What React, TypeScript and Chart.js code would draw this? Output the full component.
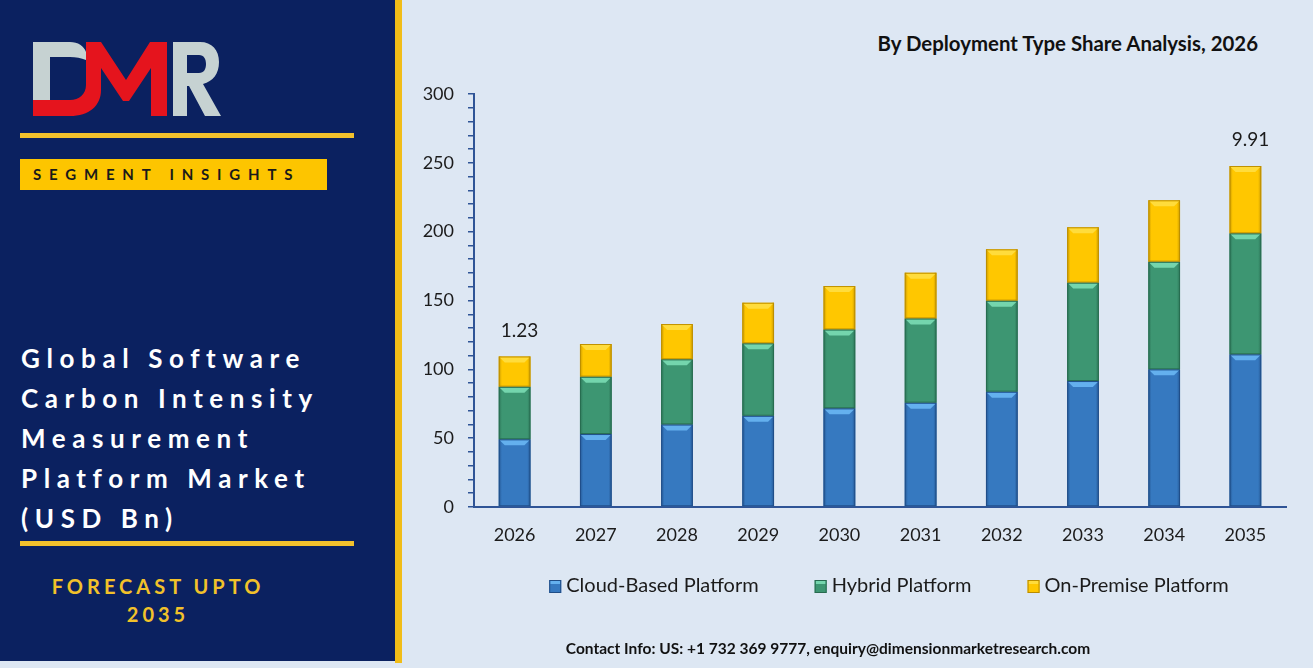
import React, { useEffect, useRef } from "react";
import { Chart, registerables } from "chart.js";

Chart.register(...registerables);

// Forecast years on the category axis
const years = ["2026", "2027", "2028", "2029", "2030", "2031", "2032", "2033", "2034", "2035"];

// Stacked segment values per year
const cloudBased = [49.2, 53.0, 60.0, 66.3, 71.7, 75.8, 83.8, 91.5, 100.0, 110.9];
const hybrid = [38.2, 41.7, 47.3, 52.6, 57.3, 61.2, 66.1, 71.5, 78.2, 87.9];
const onPremise = [22.0, 23.7, 25.6, 29.5, 31.5, 33.2, 37.3, 40.2, 44.6, 48.9];

// Market size (USD Bn) annotations shown above the first and last stacks
const marketSizeLabels = ["1.23", "", "", "", "", "", "", "", "", "9.91"];

// Value axis
const yMin = 0;
const yMax = 300;
const yMinorStep = 10;
const yLabelEvery = 50;

const seriesNames = ["Cloud-Based Platform", "Hybrid Platform", "On-Premise Platform"];
const seriesFill = ["#3679c0", "#3d9672", "#ffc700"];
const seriesLight = ["#64b0ee", "#74d5ad", "#ffdc3c"];
const seriesDark = ["#1f4d86", "#276a4f", "#b98c00"];

const AXIS_COLOR = "#2f5496";
const TEXT_COLOR = "#1b1b1b";
const FONT = "Lato, 'Open Sans', sans-serif";

function hexA(hex: string, a: number) {
  const n = parseInt(hex.slice(1), 16);
  return `rgba(${(n >> 16) & 255},${(n >> 8) & 255},${n & 255},${a})`;
}

// Bevelled look for every stacked segment
const bevelPlugin = {
  id: "bevel",
  afterDatasetsDraw(chart: any) {
    const ctx = chart.ctx;
    chart.data.datasets.forEach((_ds: any, di: number) => {
      const meta = chart.getDatasetMeta(di);
      meta.data.forEach((bar: any) => {
        const { x, y, base, width } = bar.getProps(["x", "y", "base", "width"], true);
        const l = x - width / 2;
        const r = x + width / 2;
        const t = Math.min(y, base);
        const b = Math.max(y, base);
        const h = b - t;
        if (h <= 0) return;
        const dark = seriesDark[di];
        ctx.save();
        const g = ctx.createLinearGradient(l, 0, r, 0);
        g.addColorStop(0, hexA(dark, 0.75));
        g.addColorStop(0.1, hexA(dark, 0.0));
        g.addColorStop(0.9, hexA(dark, 0.0));
        g.addColorStop(1, hexA(dark, 0.75));
        ctx.fillStyle = g;
        ctx.fillRect(l, t, width, h);
        const bv = Math.min(5, h / 3);
        ctx.fillStyle = seriesLight[di];
        ctx.beginPath();
        ctx.moveTo(l + 1, t + 1);
        ctx.lineTo(r - 1, t + 1);
        ctx.lineTo(r - 1 - bv, t + 1 + bv);
        ctx.lineTo(l + 1 + bv, t + 1 + bv);
        ctx.closePath();
        ctx.fill();
        ctx.strokeStyle = hexA(dark, 0.9);
        ctx.lineWidth = 1;
        ctx.strokeRect(l + 0.5, t + 0.5, width - 1, h - 1);
        ctx.restore();
      });
    });
  },
};

// Market size text above the top segment of a stack
const totalsPlugin = {
  id: "totals",
  afterDatasetsDraw(chart: any) {
    const ctx = chart.ctx;
    const top = chart.data.datasets.length - 1;
    const meta = chart.getDatasetMeta(top);
    ctx.save();
    ctx.font = `19px ${FONT}`;
    ctx.fillStyle = TEXT_COLOR;
    ctx.textAlign = "center";
    ctx.textBaseline = "middle";
    meta.data.forEach((bar: any, i: number) => {
      const txt = marketSizeLabels[i];
      if (!txt) return;
      ctx.fillText(txt, bar.x + 5, bar.y - 26);
    });
    ctx.restore();
  },
};

// Single-row legend with bevelled swatches
const rowLegendPlugin = {
  id: "rowLegend",
  afterDraw(chart: any) {
    const ctx = chart.ctx;
    const centerX = 487;
    const cy = 586;
    const box = 12;
    const gapText = 5;
    const gapItem = 56;
    ctx.save();
    ctx.font = `20px ${FONT}`;
    const items = chart.data.datasets.map((ds: any, i: number) => ({
      text: ds.label as string,
      w: ctx.measureText(ds.label).width,
      i,
    }));
    const total =
      items.reduce((s: number, it: any) => s + box + gapText + it.w, 0) + gapItem * (items.length - 1);
    let x = centerX - total / 2;
    items.forEach((it: any) => {
      const by = cy - box / 2;
      ctx.fillStyle = seriesFill[it.i];
      ctx.fillRect(x, by, box, box + 1);
      ctx.fillStyle = seriesLight[it.i];
      ctx.fillRect(x + 1, by + 1, box - 2, 3);
      ctx.strokeStyle = seriesDark[it.i];
      ctx.lineWidth = 1;
      ctx.strokeRect(x + 0.5, by + 0.5, box - 1, box);
      ctx.fillStyle = TEXT_COLOR;
      ctx.textAlign = "left";
      ctx.textBaseline = "middle";
      ctx.fillText(it.text, x + box + gapText, cy);
      x += box + gapText + it.w + gapItem;
    });
    ctx.restore();
  },
};

function BarChart() {
  const ref = useRef<HTMLCanvasElement | null>(null);
  useEffect(() => {
    if (!ref.current) return;
    const series = [cloudBased, hybrid, onPremise];
    const chart = new Chart(ref.current, {
      type: "bar",
      data: {
        labels: years,
        datasets: series.map((values, i) => ({
          label: seriesNames[i],
          data: values,
          backgroundColor: seriesFill[i],
          borderWidth: 0,
          barPercentage: 0.39,
          categoryPercentage: 1,
        })),
      },
      options: {
        animation: false,
        responsive: true,
        maintainAspectRatio: false,
        layout: { padding: { left: 0, top: 94, right: 27, bottom: 111 } },
        plugins: {
          legend: { display: false },
          tooltip: { enabled: false },
          title: { display: false },
        },
        scales: {
          x: {
            stacked: true,
            grid: { display: false, drawTicks: false },
            border: { display: true, color: AXIS_COLOR, width: 2 },
            ticks: {
              color: TEXT_COLOR,
              font: { family: FONT, size: 18 },
              padding: 17,
              maxRotation: 0,
            },
            afterFit(scale: any) {
              scale.height = 50;
            },
          },
          y: {
            stacked: true,
            min: yMin,
            max: yMax,
            grid: {
              display: true,
              drawOnChartArea: false,
              drawTicks: true,
              tickLength: 6,
              color: AXIS_COLOR,
              lineWidth: 1.5,
            },
            border: { display: true, color: AXIS_COLOR, width: 2 },
            ticks: {
              stepSize: yMinorStep,
              autoSkip: false,
              color: TEXT_COLOR,
              font: { family: FONT, size: 18 },
              padding: 14,
              callback: (v: any) => (Number(v) % yLabelEvery === 0 ? String(v) : ""),
            },
            afterFit(scale: any) {
              scale.width = 72;
            },
          },
        },
      },
      plugins: [bevelPlugin, totalsPlugin, rowLegendPlugin],
    });
    return () => chart.destroy();
  }, []);
  return (
    <div style={{ position: "absolute", left: 402, top: 0, width: 911, height: 668 }}>
      <canvas ref={ref} />
    </div>
  );
}

function Logo() {
  return (
    <svg width={240} height={130} style={{ position: "absolute", left: 0, top: 0 }}>
      <path
        d="M33 42 H70 C78 42 84 46 86 52 L86 60 C81 58 76 57 70 57 H50 V100 H33 Z"
        fill="#c6d2d2"
      />
      <path
        d="M33 100 H70 C79 100 86 94 86 85 V42 H101 L126 80 L150 42 H167 V116 H151 V68 L129 101 H123 L101 68 V90 C101 106 89 116 70 116 H33 Z"
        fill="#e5141d"
      />
      <path
        fillRule="evenodd"
        d="M173 42 H200 C212 42 219 50 219 62 C219 74 213 81 203 84 L221 116 H205 L189 86 H187 V116 H173 Z M187 55 V73 H199 C204 73 206 69 206 64 C206 59 204 55 199 55 Z"
        fill="#c6d2d2"
      />
    </svg>
  );
}

export default function App() {
  const titleLines = ["Global Software", "Carbon Intensity", "Measurement", "Platform Market", "(USD Bn)"];
  return (
    <div
      style={{
        position: "fixed",
        left: 0,
        top: 0,
        width: 1313,
        height: 668,
        background: "#dde7f3",
        overflow: "hidden",
        fontFamily: FONT,
      }}
    >
      <div style={{ position: "absolute", left: 0, top: 0, width: 395, height: 661, background: "#0b2160" }} />
      <div style={{ position: "absolute", left: 395, top: 0, width: 7, height: 663, background: "#f1bd18" }} />
      <Logo />
      <div style={{ position: "absolute", left: 20, top: 133, width: 334, height: 5, background: "#f3c12c" }} />
      <div
        style={{
          position: "absolute",
          left: 20,
          top: 159,
          width: 307,
          height: 31,
          background: "#fdc500",
          color: "#1a1a1a",
          fontWeight: 700,
          fontSize: 15,
          letterSpacing: 7.8,
          lineHeight: "31px",
          paddingLeft: 13,
          boxSizing: "border-box",
          whiteSpace: "nowrap",
        }}
      >
        SEGMENT INSIGHTS
      </div>
      <div
        style={{
          position: "absolute",
          left: 21,
          top: 338,
          color: "#ffffff",
          fontWeight: 700,
          fontSize: 26,
          letterSpacing: 6.6,
          lineHeight: "40px",
          whiteSpace: "nowrap",
        }}
      >
        {titleLines.map((t) => (
          <div key={t}>{t}</div>
        ))}
      </div>
      <div style={{ position: "absolute", left: 20, top: 541, width: 334, height: 5, background: "#f3c12c" }} />
      <div
        style={{
          position: "absolute",
          left: 0,
          top: 572,
          width: 316,
          textAlign: "center",
          color: "#f2c12a",
          fontWeight: 700,
          fontSize: 20,
          letterSpacing: 4,
          lineHeight: "28px",
        }}
      >
        <div>FORECAST UPTO</div>
        <div>2035</div>
      </div>
      <div
        style={{
          position: "absolute",
          right: 1313 - 1258,
          top: 30,
          color: "#111111",
          fontWeight: 700,
          fontSize: 20.4,
          lineHeight: "26px",
          whiteSpace: "nowrap",
        }}
      >
        By Deployment Type Share Analysis, 2026
      </div>
      <BarChart />
      <div
        style={{
          position: "absolute",
          left: 478,
          width: 700,
          top: 638,
          textAlign: "center",
          color: "#111111",
          fontWeight: 700,
          fontSize: 15.5,
          lineHeight: "20px",
          whiteSpace: "nowrap",
        }}
      >
        Contact Info: US: +1 732 369 9777, enquiry@dimensionmarketresearch.com
      </div>
    </div>
  );
}
